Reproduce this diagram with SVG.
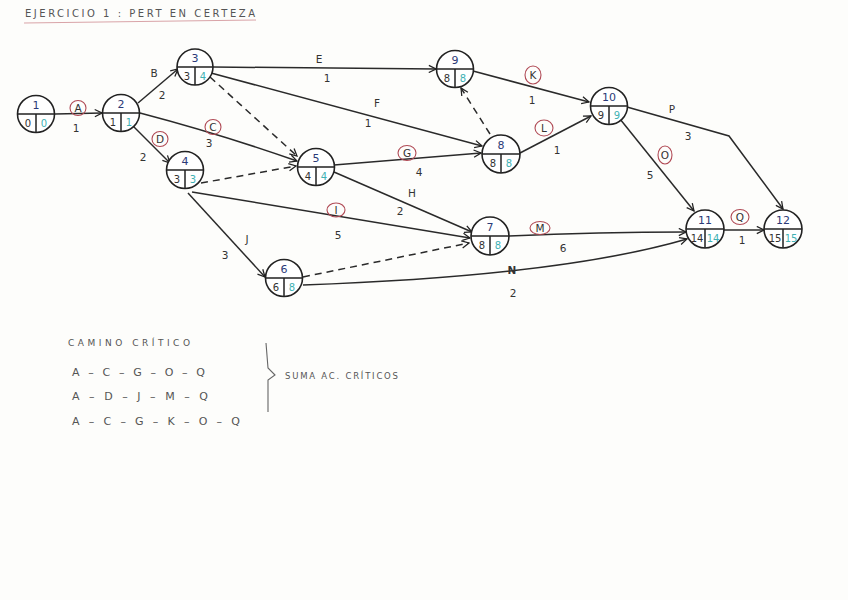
<svg xmlns="http://www.w3.org/2000/svg" width="848" height="600" viewBox="0 0 848 600">
<defs>
<marker id="arr" viewBox="0 0 10 10" refX="9" refY="5" markerWidth="9" markerHeight="9" markerUnits="userSpaceOnUse" orient="auto">
<path d="M1,1 L9,5 L1,9" fill="none" stroke="#222" stroke-width="1.4"/>
</marker>
<style>
.edge{fill:none;stroke:#2a2a2a;stroke-width:1.5;marker-end:url(#arr)}
.dash{stroke-dasharray:7 5}
.nc{fill:#fff;stroke:#222;stroke-width:1.6}
.nl{stroke:#222;stroke-width:1.5}
.t{font-family:"DejaVu Sans",sans-serif;fill:#333;text-anchor:middle}
.top{font-size:11px;fill:#2b3a78}
.bl{font-size:10px;fill:#333}
.br{font-size:10px;fill:#3fb2b4}
.lab{font-size:10.5px}
.rc{fill:none;stroke:#b04a55;stroke-width:1.1}
.note{font-family:"DejaVu Sans",sans-serif;fill:#555}
</style>
</defs>
<rect width="848" height="600" fill="#fdfdfb"/>

<g id="title">
<text class="note" x="25" y="17" font-size="10" textLength="230" lengthAdjust="spacing">EJERCICIO 1 : PERT EN CERTEZA</text>
<path d="M24,23 L256,20" stroke="#d9a4a8" stroke-width="1.2" fill="none"/>
</g>

<g id="connectors">
<path class="edge" d="M55,114 L102,113"/>
<path class="edge" d="M138,103 L178,69"/>
<path class="edge" d="M133,126 L170,163"/>
<path class="edge" d="M140,113 Q220,134 297,161"/>
<path class="edge dash" d="M210,77 L297,156"/>
<path class="edge dash" d="M201,183 L296,166"/>
<path class="edge" d="M213,67 L436,69"/>
<path class="edge" d="M211,73 L482,146"/>
<path class="edge" d="M334,165 L481,153"/>
<path class="edge" d="M334,172 L472,232"/>
<path class="edge" d="M192,192 L470,238"/>
<path class="edge" d="M188,193 L265,277"/>
<path class="edge dash" d="M303,277 L469,243"/>
<path class="edge" d="M303,285 Q560,276 687,239"/>
<path class="edge" d="M509,236 Q600,232 686,232"/>
<path class="edge dash" d="M490,134 L461,88"/>
<path class="edge" d="M473,71 L589,102"/>
<path class="edge" d="M520,153 L591,116"/>
<path class="edge" d="M620,119 L694,211"/>
<path class="edge" d="M627,107 L729,136 L783,209"/>
<path class="edge" d="M724,230 L764,230"/>
</g>

<g id="edge-labels">
<ellipse class="rc" cx="78" cy="108" rx="8" ry="7.5"/><text class="t lab" x="78" y="112">A</text>
<text class="t lab" x="76" y="132">1</text>
<text class="t lab" x="154" y="77">B</text><text class="t lab" x="162" y="99">2</text>
<ellipse class="rc" cx="160" cy="139" rx="8" ry="7.5"/><text class="t lab" x="160" y="143">D</text>
<text class="t lab" x="143" y="161">2</text>
<ellipse class="rc" cx="213" cy="127" rx="8" ry="7.5"/><text class="t lab" x="213" y="131">C</text>
<text class="t lab" x="209" y="147">3</text>
<text class="t lab" x="319" y="63">E</text><text class="t lab" x="327" y="82">1</text>
<text class="t lab" x="377" y="107">F</text><text class="t lab" x="368" y="127">1</text>
<ellipse class="rc" cx="407" cy="153" rx="9" ry="7.5"/><text class="t lab" x="407" y="157">G</text>
<text class="t lab" x="419" y="176">4</text>
<ellipse class="rc" cx="533" cy="75" rx="8" ry="9"/><text class="t lab" x="533" y="79">K</text>
<text class="t lab" x="532" y="104">1</text>
<ellipse class="rc" cx="544" cy="128" rx="9" ry="8"/><text class="t lab" x="544" y="132">L</text>
<text class="t lab" x="557" y="154">1</text>
<text class="t lab" x="412" y="197">H</text><text class="t lab" x="400" y="215">2</text>
<ellipse class="rc" cx="336" cy="210" rx="9" ry="7"/><text class="t lab" x="336" y="214">I</text>
<text class="t lab" x="338" y="239">5</text>
<text class="t lab" x="247" y="243">J</text><text class="t lab" x="225" y="259">3</text>
<ellipse class="rc" cx="540" cy="228" rx="10" ry="6.5"/><text class="t lab" x="540" y="232">M</text>
<text class="t lab" x="563" y="252">6</text>
<text class="t lab" x="512" y="274" font-size="8" font-weight="bold">N</text><text class="t lab" x="513" y="297">2</text>
<text class="t lab" x="672" y="113">P</text><text class="t lab" x="688" y="140">3</text>
<ellipse class="rc" cx="665" cy="155" rx="7" ry="9"/><text class="t lab" x="665" y="159">O</text>
<text class="t lab" x="650" y="179">5</text>
<ellipse class="rc" cx="740" cy="217" rx="9" ry="7.5"/><text class="t lab" x="740" y="221">Q</text>
<text class="t lab" x="742" y="244">1</text>
</g>

<g id="n1" transform="translate(36,114)"><circle class="nc" r="18.5"/><path class="nl" d="M-18.5,0 H18.5 M0,0 V18.5"/><text class="t top" x="0" y="-5" fill="#222">1</text><text class="t bl" x="-8" y="13">0</text><text class="t br" x="8" y="13">0</text></g>
<g id="n2" transform="translate(121,113)"><circle class="nc" r="18.5"/><path class="nl" d="M-18.5,0 H18.5 M0,0 V18.5"/><text class="t top" x="0" y="-5">2</text><text class="t bl" x="-8" y="13">1</text><text class="t br" x="8" y="13">1</text></g>
<g id="n3" transform="translate(195,67)"><circle class="nc" r="18"/><path class="nl" d="M-18,0 H18 M0,0 V18"/><text class="t top" x="0" y="-5">3</text><text class="t bl" x="-8" y="13">3</text><text class="t br" x="8" y="13">4</text></g>
<g id="n4" transform="translate(185,170)"><circle class="nc" r="18.5"/><path class="nl" d="M-18.5,0 H18.5 M0,0 V18.5"/><text class="t top" x="0" y="-5">4</text><text class="t bl" x="-8" y="13">3</text><text class="t br" x="8" y="13">3</text></g>
<g id="n5" transform="translate(316,167)"><circle class="nc" r="18.5"/><path class="nl" d="M-18.5,0 H18.5 M0,0 V18.5"/><text class="t top" x="0" y="-5">5</text><text class="t bl" x="-8" y="13">4</text><text class="t br" x="8" y="13">4</text></g>
<g id="n6" transform="translate(284,278)"><circle class="nc" r="18.5"/><path class="nl" d="M-18.5,0 H18.5 M0,0 V18.5"/><text class="t top" x="0" y="-5">6</text><text class="t bl" x="-8" y="13">6</text><text class="t br" x="8" y="13">8</text></g>
<g id="n7" transform="translate(490,236)"><circle class="nc" r="19"/><path class="nl" d="M-19,0 H19 M0,0 V19"/><text class="t top" x="0" y="-5">7</text><text class="t bl" x="-8" y="13">8</text><text class="t br" x="8" y="13">8</text></g>
<g id="n8" transform="translate(501,154)"><circle class="nc" r="19"/><path class="nl" d="M-19,0 H19 M0,0 V19"/><text class="t top" x="0" y="-5">8</text><text class="t bl" x="-8" y="13">8</text><text class="t br" x="8" y="13">8</text></g>
<g id="n9" transform="translate(455,69)"><circle class="nc" r="18.5"/><path class="nl" d="M-18.5,0 H18.5 M0,0 V18.5"/><text class="t top" x="0" y="-5">9</text><text class="t bl" x="-8" y="13">8</text><text class="t br" x="8" y="13">8</text></g>
<g id="n10" transform="translate(609,106)"><circle class="nc" r="18.5"/><path class="nl" d="M-18.5,0 H18.5 M0,0 V18.5"/><text class="t top" x="0" y="-5">10</text><text class="t bl" x="-8" y="13">9</text><text class="t br" x="8" y="13">9</text></g>
<g id="n11" transform="translate(705,229)"><circle class="nc" r="19"/><path class="nl" d="M-19,0 H19 M0,0 V19"/><text class="t top" x="0" y="-5">11</text><text class="t bl" x="-8" y="13">14</text><text class="t br" x="8" y="13">14</text></g>
<g id="n12" transform="translate(783,229)"><circle class="nc" r="19"/><path class="nl" d="M-19,0 H19 M0,0 V19"/><text class="t top" x="0" y="-5">12</text><text class="t bl" x="-8" y="13">15</text><text class="t br" x="8" y="13">15</text></g>

<g id="critical-path">
<text class="note" x="68" y="346" font-size="9" textLength="122" lengthAdjust="spacing">CAMINO CRÍTICO</text>
<text class="note" x="72" y="376" font-size="11" textLength="133" lengthAdjust="spacing">A – C – G – O – Q</text>
<text class="note" x="72" y="400" font-size="11" textLength="136" lengthAdjust="spacing">A – D – J – M – Q</text>
<text class="note" x="72" y="425" font-size="11" textLength="168" lengthAdjust="spacing">A – C – G – K – O – Q</text>
<path d="M266,343 L268,368 L275,375 L268,380 L268,412" fill="none" stroke="#666" stroke-width="1.1"/>
<text class="note" x="285" y="379" font-size="8.5" textLength="113" lengthAdjust="spacing">SUMA AC. CRÍTICOS</text>
</g>
</svg>
